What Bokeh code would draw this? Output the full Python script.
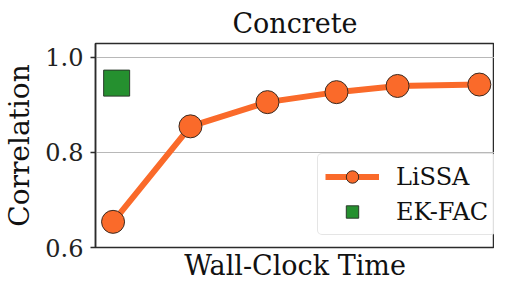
from bokeh.plotting import figure
from bokeh.models import Range1d, FixedTicker, Legend, LegendItem, Title
from bokeh.embed import file_html
from bokeh.resources import INLINE

# data (x in arbitrary wall-clock time units)
lissa_time = [0.44, 2.38, 4.31, 6.04, 7.57, 9.62]
lissa_corr = [0.654, 0.855, 0.906, 0.927, 0.940, 0.943]
ekfac_time = [0.53]
ekfac_corr = [0.946]
y_ticks = [0.6, 0.8, 1.0]
y_tick_labels = ["0.6", "0.8", "1.0"]
series_names = ["LiSSA", "EK-FAC"]
title_text = "Concrete"
x_label = "Wall-Clock Time"
y_label = "Correlation"

FONT = "DejaVu Serif"
ORANGE = "#fa6a2a"
GREEN = "#25902f"
SPINE = "#2b2b2b"

p = figure(width=494, height=280, output_backend="svg", toolbar_location=None,
           x_range=Range1d(0, 10), y_range=Range1d(0.6, 1.0294),
           x_axis_location=None,
           min_border_left=87, min_border_right=0, min_border_top=0,
           min_border_bottom=0)
p.outline_line_color = SPINE
p.outline_line_width = 1.5
p.background_fill_color = "white"
p.border_fill_color = "white"

p.title.text = title_text
p.title.text_font = FONT
p.title.text_font_size = "27px"
p.title.text_font_style = "normal"
p.title.align = "center"
p.title.text_color = "#111111"

# y axis
ya = p.yaxis[0]
ya.ticker = FixedTicker(ticks=y_ticks)
ya.major_label_overrides = {t: l for t, l in zip(y_ticks, y_tick_labels)}
ya.major_label_text_font = FONT
ya.major_label_text_font_size = "24px"
ya.major_label_text_color = "#222222"
ya.axis_label = y_label
ya.axis_label_text_font = FONT
ya.axis_label_text_font_size = "28px"
ya.axis_label_text_font_style = "normal"
ya.axis_label_text_color = "#111111"
ya.axis_line_color = SPINE
ya.axis_line_width = 1.5
ya.major_tick_line_color = SPINE
ya.major_tick_line_width = 1.5
ya.major_tick_out = 5
ya.major_tick_in = 0
ya.minor_tick_line_color = None
ya.minor_tick_out = 0
ya.major_label_standoff = 7
ya.axis_label_standoff = 6

# x-axis label as a title below the frame (the frame outline gives the spines)
xlab = Title(text=x_label, align="center", text_font=FONT, text_font_size="27px",
             text_font_style="normal", text_color="#111111", standoff=0, offset=5)
p.add_layout(xlab, "below")

p.xgrid.grid_line_color = None
p.ygrid.ticker = FixedTicker(ticks=y_ticks)
p.ygrid.grid_line_color = "#b8b8b8"
p.ygrid.grid_line_width = 1

ln = p.line(lissa_time, lissa_corr, line_color=ORANGE, line_width=6)
sc = p.scatter(lissa_time, lissa_corr, marker="circle", size=23, fill_color=ORANGE,
               line_color="#3a2a20", line_width=1)
sq = p.scatter(ekfac_time, ekfac_corr, marker="square", size=26, fill_color=GREEN,
               line_color="#2a3a2a", line_width=1)

legend = Legend(items=[LegendItem(label=series_names[0], renderers=[ln, sc]),
                       LegendItem(label=series_names[1], renderers=[sq])],
                location=(222, 12))
legend.label_text_font = FONT
legend.label_text_font_size = "24px"
legend.label_text_color = "#111111"
legend.glyph_width = 54
legend.glyph_height = 31
legend.label_standoff = 17
legend.padding = 7
legend.spacing = 4
legend.margin = 0
legend.border_line_color = "#cccccc"
legend.border_line_width = 1.5
legend.background_fill_color = "white"
legend.background_fill_alpha = 0.85
if "border_radius" in Legend.properties():
    legend.border_radius = 5
p.add_layout(legend, "center")

open("out.html", "w").write(file_html(p, INLINE))
